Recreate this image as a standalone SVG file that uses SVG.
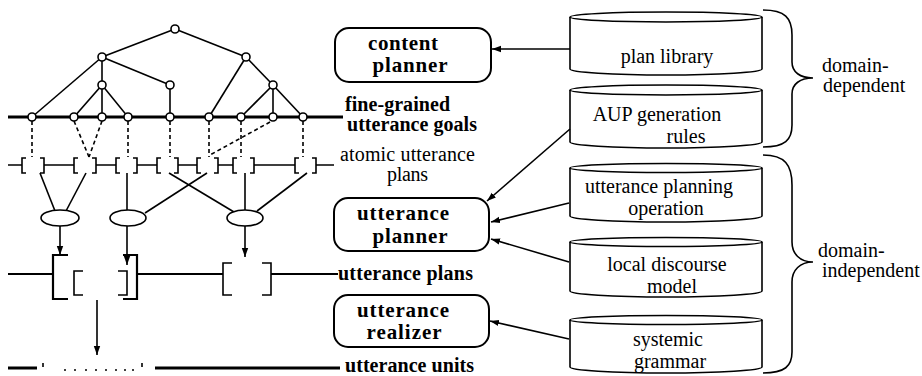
<svg xmlns="http://www.w3.org/2000/svg" width="922" height="376" viewBox="0 0 922 376">
<defs>
<marker id="ah" markerUnits="userSpaceOnUse" markerWidth="10" markerHeight="8" refX="9" refY="4" orient="auto">
<path d="M0,0.8 L9,4 L0,7.2 Z" fill="#000"/>
</marker>
<style>
.ln{stroke:#000;stroke-width:1.6;fill:none}
.thk{stroke:#000;stroke-width:3;fill:none}
.med{stroke:#000;stroke-width:2.2;fill:none}
.dash{stroke:#000;stroke-width:1.6;fill:none;stroke-dasharray:4 3}
.nd{fill:#fff;stroke:#000;stroke-width:1.6}
.box{fill:#fff;stroke:#000;stroke-width:2}
.cyl{fill:#fff;stroke:#000;stroke-width:1.6}
.arr{stroke:#000;stroke-width:1.6;fill:none;marker-end:url(#ah)}
.tb{font-family:"Liberation Serif","Times New Roman",serif;font-weight:bold;font-size:21px;text-anchor:middle}
.lb{font-family:"Liberation Serif","Times New Roman",serif;font-weight:bold;font-size:20px}
.lr{font-family:"Liberation Serif","Times New Roman",serif;font-size:20px}
.ct{font-family:"Liberation Serif","Times New Roman",serif;font-size:20px;text-anchor:middle}
</style>
</defs>

<g id="tree">
<line class="thk" x1="8" y1="117" x2="343" y2="117"/>
<g class="ln">
<line x1="175" y1="29" x2="102" y2="57"/>
<line x1="175" y1="29" x2="246" y2="57"/>
<line x1="102" y1="57" x2="32" y2="117"/>
<line x1="102" y1="57" x2="102" y2="85"/>
<line x1="102" y1="57" x2="170" y2="85"/>
<line x1="102" y1="85" x2="74" y2="117"/>
<line x1="102" y1="85" x2="102" y2="117"/>
<line x1="102" y1="85" x2="128" y2="117"/>
<line x1="170" y1="85" x2="170" y2="117"/>
<line x1="246" y1="57" x2="209" y2="117"/>
<line x1="246" y1="57" x2="273" y2="85"/>
<line x1="273" y1="85" x2="241" y2="117"/>
<line x1="273" y1="85" x2="273" y2="117"/>
<line x1="273" y1="85" x2="303" y2="117"/>
</g>
<g class="dash">
<line x1="32" y1="121" x2="32" y2="157"/>
<line x1="74" y1="121" x2="89" y2="157"/>
<line x1="102" y1="121" x2="89" y2="157"/>
<line x1="128" y1="121" x2="128" y2="157"/>
<line x1="170" y1="121" x2="170" y2="157"/>
<line x1="209" y1="121" x2="209" y2="157"/>
<line x1="241" y1="121" x2="241" y2="157"/>
<line x1="270" y1="122" x2="210" y2="155"/>
<line x1="303" y1="121" x2="303" y2="157"/>
</g>
<g>
<circle class="nd" cx="175" cy="29" r="4"/>
<circle class="nd" cx="102" cy="57" r="4"/>
<circle class="nd" cx="246" cy="57" r="4"/>
<circle class="nd" cx="102" cy="85" r="4"/>
<circle class="nd" cx="170" cy="85" r="4"/>
<circle class="nd" cx="273" cy="85" r="4"/>
<circle class="nd" cx="32" cy="117" r="4"/>
<circle class="nd" cx="74" cy="117" r="4"/>
<circle class="nd" cx="102" cy="117" r="4"/>
<circle class="nd" cx="128" cy="117" r="4"/>
<circle class="nd" cx="170" cy="117" r="4"/>
<circle class="nd" cx="209" cy="117" r="4"/>
<circle class="nd" cx="241" cy="117" r="4"/>
<circle class="nd" cx="273" cy="117" r="4"/>
<circle class="nd" cx="303" cy="117" r="4"/>
</g>
</g>

<g id="atomic-plans" class="ln">
<path d="M8,165 H22 M44,165 H74 M96,165 H116 M137,165 H157 M178,165 H197 M218,165 H233 M254,165 H295 M316,165 H334"/>
<path d="M26,158 H22 V173 H26 M40,158 H44 V173 H40"/>
<path d="M78,158 H74 V173 H78 M92,158 H96 V173 H92"/>
<path d="M120,158 H116 V173 H120 M133,158 H137 V173 H133"/>
<path d="M161,158 H157 V173 H161 M174,158 H178 V173 H174"/>
<path d="M201,158 H197 V173 H201 M214,158 H218 V173 H214"/>
<path d="M237,158 H233 V173 H237 M250,158 H254 V173 H250"/>
<path d="M299,158 H295 V173 H299 M312,158 H316 V173 H312"/>
</g>

<g id="combinations">
<g class="ln">
<line x1="40" y1="173" x2="55" y2="211"/>
<line x1="86" y1="173" x2="66" y2="211"/>
<line x1="127" y1="173" x2="127" y2="210"/>
<line x1="207" y1="173" x2="145" y2="213"/>
<line x1="169" y1="173" x2="234" y2="212"/>
<line x1="245" y1="173" x2="245" y2="210"/>
<line x1="307" y1="173" x2="257" y2="211"/>
</g>
<ellipse class="nd" cx="60" cy="218" rx="19" ry="8"/>
<ellipse class="nd" cx="128" cy="218" rx="18" ry="8"/>
<ellipse class="nd" cx="245" cy="218" rx="18" ry="8"/>
</g>

<g id="utterance-plans">
<path class="med" d="M8,274 H53 M137,274 H223 M271,274 H338"/>
<path class="med" d="M68,255 H53 V299 H68 M123,255 H137 V299 H123"/>
<path class="ln" d="M83,271 H74 V295 H83 M118,271 H127 V295 H118"/>
<path class="ln" d="M232,263 H223 V295 H232 M262,263 H271 V295 H262"/>
</g>

<g id="utterance-units">
<path class="thk" d="M8,368 H37 M155,368 H340"/>
<path class="ln" d="M43,363 V367 M142,363 V367"/>
<g fill="#000">
<circle cx="65" cy="370" r="1"/><circle cx="75" cy="370" r="1"/><circle cx="86" cy="370" r="1"/><circle cx="96" cy="370" r="1"/><circle cx="106" cy="370" r="1"/><circle cx="116" cy="370" r="1"/><circle cx="125" cy="370" r="1"/><circle cx="133" cy="370" r="1"/>
</g>
</g>

<g id="tree-arrows">
<line class="arr" x1="60" y1="226" x2="60" y2="255"/>
<line class="arr" x1="127" y1="226" x2="127" y2="265"/>
<line class="arr" x1="245" y1="226" x2="245" y2="257"/>
<line class="arr" x1="97" y1="300" x2="97" y2="355"/>
</g>

<g id="labels-left">
<text class="lb" x="345" y="111" textLength="105">fine-grained</text>
<text class="lb" x="347" y="131" textLength="130">utterance goals</text>
<text class="lr" x="340" y="161" textLength="135">atomic utterance</text>
<text class="lr" x="387" y="181" textLength="41">plans</text>
<text class="lb" x="338" y="280" textLength="135">utterance plans</text>
<text class="lb" x="345" y="372" textLength="129">utterance units</text>
</g>

<g id="content-planner">
<rect class="box" x="335" y="28" width="156" height="54" rx="14"/>
<text class="tb" x="403" y="50" textLength="70">content</text>
<text class="tb" x="410" y="72" textLength="75">planner</text>
</g>
<g id="utterance-planner">
<rect class="box" x="334" y="198" width="155" height="53" rx="14"/>
<text class="tb" x="403" y="220" textLength="92">utterance</text>
<text class="tb" x="410" y="243" textLength="75">planner</text>
</g>
<g id="utterance-realizer">
<rect class="box" x="334" y="295" width="155" height="52" rx="14"/>
<text class="tb" x="403" y="317" textLength="92">utterance</text>
<text class="tb" x="404" y="339" textLength="75">realizer</text>
</g>

<g id="plan-library">
<path class="cyl" d="M570,17 V69 A96,6 0 0 0 762,69 V17"/>
<ellipse class="cyl" cx="666" cy="17" rx="96" ry="5"/>
<text class="ct" x="667" y="63">plan library</text>
</g>
<g id="aup-rules">
<path class="cyl" d="M570,90 V142 A96,6 0 0 0 762,142 V90"/>
<ellipse class="cyl" cx="666" cy="90" rx="96" ry="5"/>
<text class="ct" x="657" y="121">AUP generation</text>
<text class="ct" x="686" y="143">rules</text>
</g>
<g id="utterance-planning-operation">
<path class="cyl" d="M570,168 V216 A96,6 0 0 0 762,216 V168"/>
<ellipse class="cyl" cx="666" cy="168" rx="96" ry="4.5"/>
<text class="ct" x="659" y="193" textLength="148">utterance planning</text>
<text class="ct" x="666" y="215">operation</text>
</g>
<g id="local-discourse-model">
<path class="cyl" d="M570,242 V291 A96,6 0 0 0 762,291 V242"/>
<ellipse class="cyl" cx="666" cy="242" rx="96" ry="4.5"/>
<text class="ct" x="667" y="271">local discourse</text>
<text class="ct" x="672" y="293">model</text>
</g>
<g id="systemic-grammar">
<path class="cyl" d="M570,320 V367 A96,6 0 0 0 762,367 V320"/>
<ellipse class="cyl" cx="666" cy="320" rx="96" ry="4.5"/>
<text class="ct" x="668" y="346">systemic</text>
<text class="ct" x="670" y="368">grammar</text>
</g>

<g id="braces" class="ln">
<path d="M763,10 C785,10 792,18 792,35 L792,62 C792,72 800,78 813,78 C800,78 792,84 792,94 L792,125 C792,140 785,147 763,147"/>
<path d="M763,155 C785,155 792,165 792,185 L792,242 C792,254 800,262 813,262 C800,262 792,270 792,282 L792,352 C792,366 785,373 763,373"/>
</g>
<g id="labels-right">
<text class="lr" x="822" y="72">domain-</text>
<text class="lr" x="823" y="92">dependent</text>
<text class="lr" x="818" y="257">domain-</text>
<text class="lr" x="822" y="277">independent</text>
</g>

<g id="connectors">
<line class="arr" x1="570" y1="49" x2="492" y2="49"/>
<line class="arr" x1="570" y1="129" x2="487" y2="201"/>
<line class="arr" x1="569" y1="203" x2="491" y2="222"/>
<line class="arr" x1="569" y1="262" x2="491" y2="239"/>
<line class="arr" x1="569" y1="339" x2="490" y2="321"/>
</g>
</svg>
